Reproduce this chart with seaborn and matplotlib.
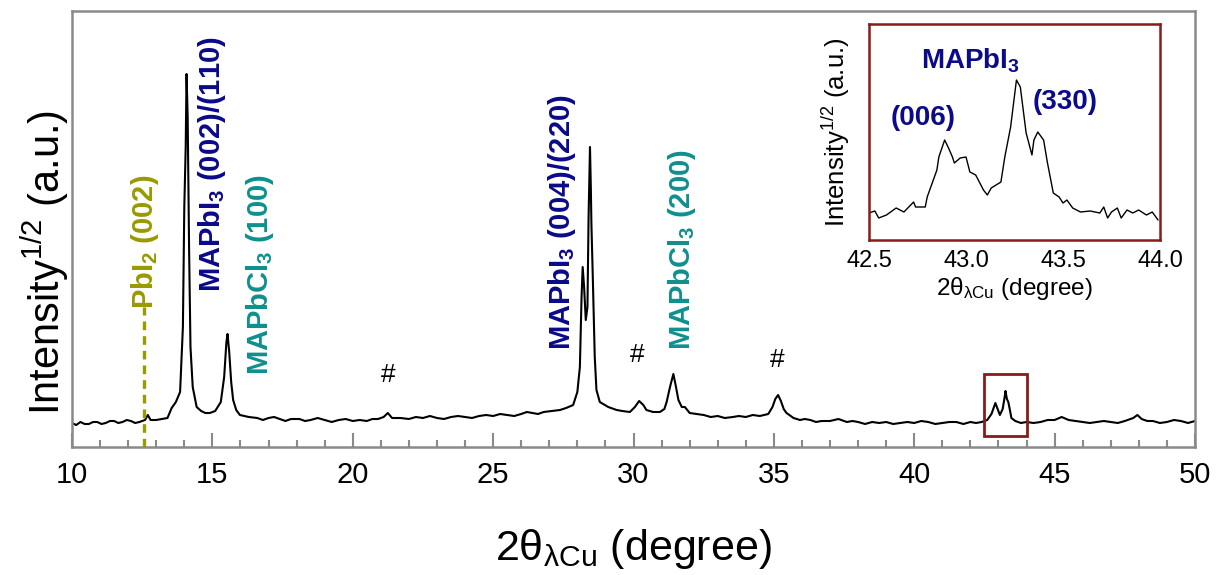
import numpy as np
import pandas as pd
import matplotlib
matplotlib.use("Agg")
import matplotlib.pyplot as plt
from matplotlib.patches import Rectangle
from matplotlib.ticker import MultipleLocator
import seaborn as sns

# ---------------- data ----------------
main_two_theta = [
    10.0, 10.15, 10.3, 10.45, 10.6, 10.75, 10.9, 11.05, 11.2, 11.35, 11.5, 11.65, 11.8,
    11.95, 12.1, 12.25, 12.4, 12.6, 12.7, 12.8, 13.0, 13.2, 13.4,
    13.55, 13.7, 13.85, 13.95, 14.0, 14.05, 14.08, 14.12, 14.17, 14.22, 14.3, 14.44, 14.6,
    14.75, 14.91, 15.1, 15.3, 15.42, 15.5, 15.54, 15.6, 15.67, 15.74, 15.85, 15.98, 16.3,
    16.6, 16.8, 17.0, 17.2, 17.4, 17.6, 17.8, 18.1, 18.3, 18.5, 18.75, 19.0, 19.25, 19.5,
    19.75, 20.0, 20.25, 20.5, 20.7, 20.9, 21.1, 21.25, 21.4,
    21.7, 22.0, 22.25, 22.5, 22.75, 23.0, 23.25, 23.5, 23.75, 24.0, 24.25, 24.5, 24.75,
    25.0, 25.25, 25.5, 25.75, 26.0, 26.2, 26.4, 26.6, 26.8, 27.1, 27.38,
    27.6, 27.85, 28.0, 28.09, 28.15, 28.19, 28.24, 28.3, 28.36, 28.4, 28.45, 28.48, 28.5,
    28.55, 28.62, 28.68, 28.8, 29.1, 29.4, 29.6, 29.87, 30.05, 30.2, 30.35, 30.46, 30.7,
    30.94, 31.1, 31.18, 31.3, 31.42, 31.5, 31.6, 31.72, 31.83, 32.0, 32.25, 32.5, 32.75,
    33.0, 33.25, 33.54, 33.75, 34.0, 34.25, 34.5, 34.8, 34.95, 35.05, 35.15, 35.25, 35.35,
    35.45, 35.7, 35.93, 36.1, 36.3, 36.5, 36.7, 37.0, 37.3, 37.6, 37.8, 38.0, 38.25, 38.5,
    38.75, 39.0, 39.25, 39.5, 39.75, 40.0, 40.25, 40.5, 40.75, 41.0, 41.25, 41.5, 41.75,
    42.0, 42.2, 42.4, 42.6, 42.75, 42.89, 42.97, 43.05, 43.15, 43.22, 43.25, 43.3, 43.35,
    43.4, 43.46, 43.6, 43.8, 44.0, 44.25, 44.5, 44.75, 45.0, 45.25, 45.5, 45.75, 46.0,
    46.25, 46.5, 46.75, 47.0, 47.25, 47.5, 47.8, 47.95, 48.1, 48.3, 48.5, 48.75, 49.0,
    49.25, 49.5, 49.75, 50.0,
]
main_intensity = [
    24, 22, 25, 23, 23, 25, 25, 23, 24, 26, 26, 24, 25,
    27, 26, 24, 25, 27, 32, 27, 27, 28, 29,
    39, 45, 55, 120, 240, 300, 373, 330, 200, 100, 60, 40, 36,
    34, 34, 36, 45, 70, 105, 113, 95, 65, 47, 37, 32, 30,
    29, 27, 29, 30, 28, 26, 28, 28, 26, 27, 29, 27, 25, 27,
    28, 26, 27, 26, 28, 28, 30, 34, 29,
    29, 28, 30, 29, 31, 29, 28, 30, 31, 30, 29, 31, 32,
    31, 33, 32, 31, 33, 35, 34, 33, 35, 36, 37,
    39, 42, 55, 80, 150, 180, 160, 127, 140, 230, 300, 260, 224,
    170, 90, 57, 45, 40, 37, 36, 35, 40, 46, 42, 37, 35,
    35, 38, 45, 60, 73, 62, 47, 40, 40, 34, 33, 32, 30,
    31, 29, 30, 31, 30, 32, 31, 33, 40, 48, 52, 46, 38,
    34, 29, 27, 28, 27, 25, 26, 26, 28, 25, 26, 25, 23, 25,
    24, 25, 23, 24, 25, 24, 26, 25, 23, 24, 25, 25, 23,
    25, 24, 25, 27, 33, 44, 38, 32, 38, 50, 56, 48, 45,
    38, 29, 26, 24, 25, 24, 25, 27, 27, 30, 27, 26, 25,
    24, 25, 26, 25, 24, 26, 29, 32, 28, 26, 26, 24, 25,
    27, 26, 24, 26,
]

inset_two_theta = [
    42.50, 42.53, 42.55, 42.59, 42.64, 42.68, 42.73, 42.74, 42.79, 42.80, 42.85, 42.86,
    42.89, 42.91, 42.93, 42.94, 42.97, 43.00, 43.02, 43.05, 43.09, 43.11, 43.13, 43.18,
    43.20, 43.23, 43.26, 43.28, 43.31, 43.34, 43.35, 43.37, 43.40, 43.42, 43.45, 43.48,
    43.50, 43.52, 43.55, 43.59, 43.64, 43.69, 43.71, 43.73, 43.75, 43.78, 43.80, 43.83,
    43.86, 43.89, 43.93, 43.96, 43.99,
]
inset_intensity = [
    27, 29, 22, 25, 32, 28, 38, 33, 33, 43, 70, 83,
    100, 92, 83, 77, 82, 83, 68, 65, 50, 45, 52, 58,
    83, 113, 160, 153, 107, 85, 100, 108, 100, 77, 47, 43,
    37, 40, 32, 28, 29, 27, 33, 22, 28, 32, 22, 30,
    27, 30, 25, 28, 20,
]

x_ticks_main = [10, 15, 20, 25, 30, 35, 40, 45, 50]
x_ticks_inset = [42.5, 43.0, 43.5, 44.0]

# annotation texts: (label, x, bottom y, colour)
peak_labels = [
    (r"PbI$_\mathbf{2}$ (002)", 12.60, 138, "#999900"),
    (r"MAPbI$_\mathbf{3}$ (002)/(110)", 14.97, 155, "#0a0a8a"),
    (r"MAPbCl$_\mathbf{3}$ (100)", 16.68, 72, "#0f8f8f"),
    (r"MAPbI$_\mathbf{3}$ (004)/(220)", 27.47, 97, "#0a0a8a"),
    (r"MAPbCl$_\mathbf{3}$ (200)", 31.71, 97, "#0f8f8f"),
]
hash_positions = [(21.25, 60), (30.12, 80), (35.13, 75)]
pbi2_position = 12.56

# ---------------- style ----------------
sns.set_style("white")
plt.rcParams["font.family"] = ["Liberation Sans", "DejaVu Sans"]
plt.rcParams["mathtext.fontset"] = "custom"
plt.rcParams["mathtext.rm"] = "Liberation Sans"
plt.rcParams["mathtext.it"] = "Liberation Sans:italic"
plt.rcParams["mathtext.bf"] = "Liberation Sans:bold"
plt.rcParams["text.color"] = "black"
plt.rcParams["axes.labelcolor"] = "black"
plt.rcParams["xtick.labelcolor"] = "black"
plt.rcParams["ytick.labelcolor"] = "black"

W, H = 1222, 575
fig = plt.figure(figsize=(W / 100, H / 100), dpi=100)

def px_axes(l, t, r, b):
    return [l / W, 1 - b / H, (r - l) / W, (b - t) / H]

ax = fig.add_axes(px_axes(72, 11, 1195, 447))
main_df = pd.DataFrame({"two_theta": main_two_theta, "intensity": main_intensity})
sns.lineplot(data=main_df, x="two_theta", y="intensity", ax=ax, color="black",
             linewidth=1.5, estimator=None, sort=False)
ax.set_xlim(10, 50)
ax.set_ylim(0, 436)
ax.set_xticks(x_ticks_main)
ax.set_xticklabels([str(t) for t in x_ticks_main])
ax.xaxis.set_minor_locator(MultipleLocator(1))
ax.set_yticks([])
ax.set_xlabel("")
ax.set_ylabel("")
for s in ax.spines.values():
    s.set_color("#8a8a8a")
    s.set_linewidth(1.8)
ax.tick_params(axis="x", which="major", direction="in", length=10, width=1.5,
               color="#8a8a8a", labelsize=21, pad=10, bottom=True, top=False,
               labelcolor="black")
ax.tick_params(axis="x", which="minor", direction="in", length=5, width=1.5,
               color="#8a8a8a", bottom=True, top=False)

# PbI2 reference dashed line
ax.plot([pbi2_position, pbi2_position], [0, 140], color="#999900", lw=2.4,
        linestyle=(0, (2.6, 1.8)), clip_on=False, zorder=3)

for label, xx, yy, col in peak_labels:
    ax.text(xx, yy, label, rotation=90, ha="center", va="bottom", color=col,
            fontsize=21, fontweight="bold")
for xx, yy in hash_positions:
    ax.text(xx, yy, "#", ha="center", va="bottom", fontsize=19, color="black")

ax.add_patch(Rectangle((42.5, 11), 1.5, 62, fill=False, edgecolor="#8b1a1a",
                       linewidth=2, zorder=4))

fig.text(45 / W, 1 - 262 / H, r"Intensity$^{\mathrm{1/2}}$ (a.u.)", rotation=90,
         ha="center", va="center", fontsize=30, color="black")
fig.text(633 / W, 15 / H, r"2θ$_{\mathrm{λCu}}$ (degree)", ha="center",
         va="baseline", fontsize=31, color="black")

# ---------------- inset ----------------
axi = fig.add_axes(px_axes(869, 24, 1160, 240))
inset_df = pd.DataFrame({"two_theta": inset_two_theta, "intensity": inset_intensity})
sns.lineplot(data=inset_df, x="two_theta", y="intensity", ax=axi, color="black",
             linewidth=1.0, estimator=None, sort=False)
axi.set_xlim(42.5, 44.0)
axi.set_ylim(0, 216)
axi.set_xticks(x_ticks_inset)
axi.set_xticklabels([f"{t:.1f}" for t in x_ticks_inset])
axi.xaxis.set_minor_locator(MultipleLocator(0.1))
axi.set_yticks([])
for s in axi.spines.values():
    s.set_color("#8b1a1a")
    s.set_linewidth(1.8)
axi.tick_params(axis="x", which="major", direction="in", length=6, width=1.4,
                color="#8b1a1a", labelsize=17, pad=7, labelcolor="black")
axi.tick_params(axis="x", which="minor", direction="in", length=3, width=1.4,
                color="#8b1a1a")
axi.set_xlabel(r"2θ$_{\mathrm{λCu}}$ (degree)", fontsize=17.5, labelpad=2, color="black")
axi.set_ylabel(r"Intensity$^{\mathrm{1/2}}$ (a.u.)", fontsize=18.5, labelpad=12, color="black")
axi.text(43.02, 172, r"MAPbI$_\mathbf{3}$", ha="center", va="baseline",
         fontsize=20, fontweight="bold", color="#0a0a8a")
axi.text(42.78, 122, "(006)", ha="center", va="center", fontsize=20,
         fontweight="bold", color="#0a0a8a")
axi.text(43.51, 138, "(330)", ha="center", va="center", fontsize=20,
         fontweight="bold", color="#0a0a8a")

fig.savefig("out.png", dpi=100)
